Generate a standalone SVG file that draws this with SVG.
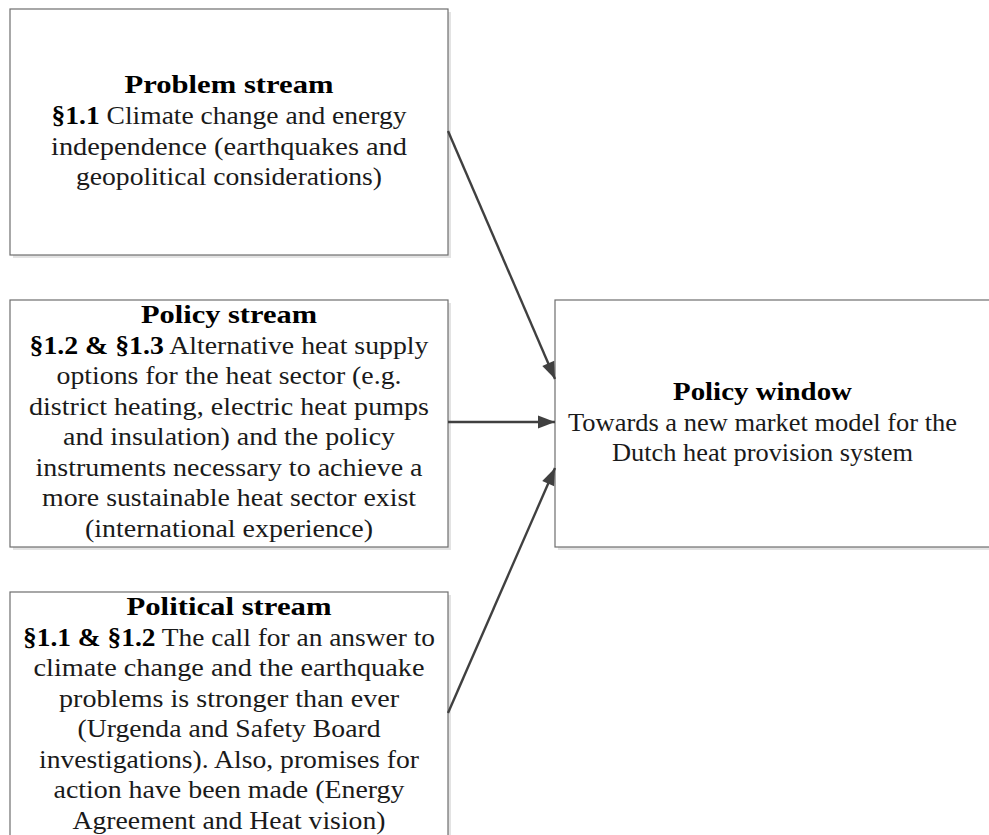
<svg xmlns="http://www.w3.org/2000/svg" width="989" height="835" viewBox="0 0 989 835">
<style>
.box{fill:#ffffff;stroke:#6e6e6e;stroke-width:1.2}
.shadow{fill:#e3e3e3}
.t{font-family:"Liberation Serif","Times New Roman",serif;font-size:26px;fill:#1a1a1a;text-anchor:middle}
.b{font-weight:bold;fill:#000}
.conn{stroke:#404040;stroke-width:2.4;fill:none}
</style>
<defs>
<marker id="arr" viewBox="0 0 17 13" refX="17" refY="6.5" markerWidth="17" markerHeight="13" markerUnits="userSpaceOnUse" orient="auto" overflow="visible">
<path d="M0,0 L17,6.5 L0,13 z" fill="#404040"/>
</marker>
</defs>
<rect width="989" height="835" fill="#ffffff"/>

<g id="problem">
<rect class="shadow" x="13" y="12" width="438" height="246"/>
<rect class="box" x="10" y="9" width="438" height="246"/>
<text class="t" x="229" y="93" textLength="209" lengthAdjust="spacingAndGlyphs"><tspan class="b">Problem stream</tspan></text>
<text class="t" x="229" y="124" textLength="355" lengthAdjust="spacingAndGlyphs"><tspan class="b">§1.1</tspan> Climate change and energy</text>
<text class="t" x="229" y="155" textLength="356" lengthAdjust="spacingAndGlyphs">independence (earthquakes and</text>
<text class="t" x="229" y="185" textLength="306" lengthAdjust="spacingAndGlyphs">geopolitical considerations)</text>
</g>

<g id="policy">
<rect class="shadow" x="13" y="303" width="438" height="247"/>
<rect class="box" x="10" y="300" width="438" height="247"/>
<text class="t" x="229" y="323" textLength="176" lengthAdjust="spacingAndGlyphs"><tspan class="b">Policy stream</tspan></text>
<text class="t" x="229" y="353.5" textLength="399" lengthAdjust="spacingAndGlyphs"><tspan class="b">§1.2 &amp; §1.3</tspan> Alternative heat supply</text>
<text class="t" x="229" y="384" textLength="345" lengthAdjust="spacingAndGlyphs">options for the heat sector (e.g.</text>
<text class="t" x="229" y="414.5" textLength="400" lengthAdjust="spacingAndGlyphs">district heating, electric heat pumps</text>
<text class="t" x="229" y="445" textLength="332" lengthAdjust="spacingAndGlyphs">and insulation) and the policy</text>
<text class="t" x="229" y="475.5" textLength="387" lengthAdjust="spacingAndGlyphs">instruments necessary to achieve a</text>
<text class="t" x="229" y="506" textLength="374" lengthAdjust="spacingAndGlyphs">more sustainable heat sector exist</text>
<text class="t" x="229" y="536.5" textLength="288" lengthAdjust="spacingAndGlyphs">(international experience)</text>
</g>

<g id="political">
<rect class="shadow" x="13" y="595" width="438" height="260"/>
<rect class="box" x="10" y="592" width="438" height="260"/>
<text class="t" x="229" y="615" textLength="205" lengthAdjust="spacingAndGlyphs"><tspan class="b">Political stream</tspan></text>
<text class="t" x="229" y="645.5" textLength="412" lengthAdjust="spacingAndGlyphs"><tspan class="b">§1.1 &amp; §1.2</tspan> The call for an answer to</text>
<text class="t" x="229" y="676" textLength="391" lengthAdjust="spacingAndGlyphs">climate change and the earthquake</text>
<text class="t" x="229" y="706.5" textLength="340" lengthAdjust="spacingAndGlyphs">problems is stronger than ever</text>
<text class="t" x="229" y="737" textLength="303" lengthAdjust="spacingAndGlyphs">(Urgenda and Safety Board</text>
<text class="t" x="229" y="767.5" textLength="380" lengthAdjust="spacingAndGlyphs">investigations). Also, promises for</text>
<text class="t" x="229" y="798" textLength="351" lengthAdjust="spacingAndGlyphs">action have been made (Energy</text>
<text class="t" x="229" y="828.5" textLength="313" lengthAdjust="spacingAndGlyphs">Agreement and Heat vision)</text>
</g>

<g id="window">
<rect class="shadow" x="558" y="303" width="450" height="247"/>
<rect class="box" x="555" y="300" width="450" height="247"/>
<text class="t" x="762.5" y="400" textLength="179" lengthAdjust="spacingAndGlyphs"><tspan class="b">Policy window</tspan></text>
<text class="t" x="762.5" y="431" textLength="389" lengthAdjust="spacingAndGlyphs">Towards a new market model for the</text>
<text class="t" x="762.5" y="460.5" textLength="301" lengthAdjust="spacingAndGlyphs">Dutch heat provision system</text>
</g>

<g id="connectors">
<line class="conn" x1="448" y1="131" x2="555" y2="379" marker-end="url(#arr)"/>
<line class="conn" x1="448" y1="422" x2="555" y2="422" marker-end="url(#arr)"/>
<line class="conn" x1="448" y1="713" x2="555" y2="468" marker-end="url(#arr)"/>
</g>
</svg>
